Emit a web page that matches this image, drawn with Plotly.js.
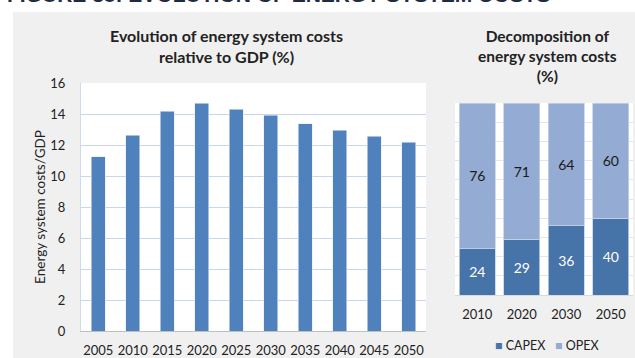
<!DOCTYPE html>
<html><head><meta charset="utf-8">
<script src="https://cdn.plot.ly/plotly-3.0.1.min.js"></script>
<style>html,body{margin:0;padding:0;background:#fff;}#chart{width:635px;height:358px;}</style>
</head><body><div id="chart"></div>
<script>
const years = ['2005','2010','2015','2020','2025','2030','2035','2040','2045','2050'];
const costsToGDP = [11.25, 12.63, 14.19, 14.69, 14.32, 13.91, 13.38, 12.95, 12.58, 12.19];
const decompYears = ['2010','2020','2030','2050'];
const capex = [24, 29, 36, 40];
const opex = [76, 71, 64, 60];
const seriesNames = ['CAPEX', 'OPEX'];
const seriesColors = ['#4673a8', '#94abd3'];

const W = 635, H = 358;
const px = x => x / W;
const py = y => 1 - y / H;
const FONT = 'Lato, "Open Sans", sans-serif';

const traces = [
  {type:'bar', x: years, y: costsToGDP, xaxis:'x', yaxis:'y', marker:{color:'#4f81bd', line:{color:'#e3ebf5', width:0.6}}, width:0.4, showlegend:false, hoverinfo:'skip'},
  {type:'bar', name:seriesNames[0], x: decompYears, y: capex, xaxis:'x2', yaxis:'y2', marker:{color:seriesColors[0], line:{color:'#c6d3e6', width:0.8}},
   text: capex.map(String), textposition:'inside', insidetextanchor:'middle', textfont:{color:'#ffffff', size:14, family:FONT}, hoverinfo:'skip', showlegend:false},
  {type:'bar', name:seriesNames[1], x: decompYears, y: opex, xaxis:'x2', yaxis:'y2', marker:{color:seriesColors[1], line:{color:'#c6d3e6', width:0.8}},
   text: opex.map(String), textposition:'inside', insidetextanchor:'middle', textfont:{color:'#1a1a1a', size:14, family:FONT}, hoverinfo:'skip', showlegend:false}
];

const legendText = seriesNames.map((n, i) => `<span style="color:${seriesColors[i]}">■</span> ${n}`).join('   ');

const layout = {
  width: W, height: H,
  margin:{l:0,r:0,t:0,b:0},
  paper_bgcolor:'#f0f0f0', plot_bgcolor:'#ffffff',
  font:{family:FONT, color:'#222', size:13},
  barmode:'stack', bargap:0.2,
  showlegend:false,
  xaxis:{domain:[px(81), px(426)], anchor:'y', type:'category', showgrid:false, showline:true, linecolor:'#bfbfbf', linewidth:1,
    ticks:'outside', ticklen:7, tickcolor:'rgba(0,0,0,0)', tickfont:{size:13, color:'#222'}},
  yaxis:{domain:[py(331), py(83)], anchor:'x', range:[0,16], dtick:2, showgrid:true, gridcolor:'#c9d7ea', gridwidth:1,
    showline:true, linecolor:'#d0dbe9', zeroline:false, ticks:'outside', ticklen:12, tickcolor:'rgba(0,0,0,0)', tickfont:{size:13, color:'#222'},
    title:{text:'Energy system costs/GDP', font:{size:13.5, color:'#222'}, standoff:1}},
  xaxis2:{domain:[px(455), px(633)], anchor:'y2', type:'category', showgrid:false, showline:true, linecolor:'#d9d9d9',
    ticks:'outside', ticklen:7, tickcolor:'rgba(0,0,0,0)', tickfont:{size:13, color:'#222'}},
  yaxis2:{domain:[py(295), py(103)], anchor:'x2', range:[0,100], dtick:10, showgrid:true, gridcolor:'#dfe6f1', showticklabels:false, zeroline:false, showline:false},
  shapes:[
    {type:'rect', xref:'paper', yref:'paper', x0:0, x1:1, y0:py(12), y1:1, fillcolor:'#ffffff', line:{width:0}, layer:'below'},
    {type:'rect', xref:'paper', yref:'paper', x0:0, x1:px(13), y0:0, y1:1, fillcolor:'#ffffff', line:{width:0}, layer:'below'}
  ],
  annotations:[
    {text:'FIGURE 38: EVOLUTION OF ENERGY SYSTEM COSTS', xref:'paper', yref:'paper', x:px(5), xanchor:'left', y:py(8), yanchor:'bottom',
     showarrow:false, font:{family:'"Liberation Sans", Arial, sans-serif', size:21, color:'#1f2a44', weight:'bold'}},
    {text:'<b>Evolution of energy system costs<br>relative to GDP (%)</b>', xref:'paper', yref:'paper', x:px(226), xanchor:'center', y:py(46), yanchor:'middle',
     showarrow:false, font:{size:16, color:'#222'}},
    {text:'<b>Decomposition of<br>energy system costs<br>(%)</b>', xref:'paper', yref:'paper', x:px(547), xanchor:'center', y:py(56), yanchor:'middle',
     showarrow:false, font:{size:15.5, color:'#222'}},
    {text: legendText, xref:'paper', yref:'paper', x:px(547), xanchor:'center', y:py(345), yanchor:'middle',
     showarrow:false, font:{size:12.5, color:'#222'}}
  ]
};

Plotly.newPlot('chart', traces, layout, {staticPlot:true, displayModeBar:false});
</script></body></html>
